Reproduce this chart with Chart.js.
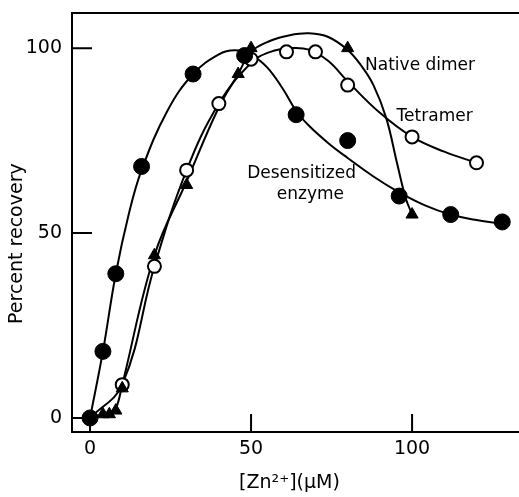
<html>
<head>
    <script src="https://cdn.jsdelivr.net/npm/chart.js"></script>
    <style>
        body { margin: 0; background: #fff; }
    </style>
</head>
<body>
    <canvas id="myChart" width="519" height="497"></canvas>
    <script>
        const desensX = [0, 4, 8, 16, 32, 48, 64, 80, 96, 112, 128];
        const desensY = [0, 18, 39, 68, 93, 98, 82, 75, 60, 55, 53];
        const tetraX = [0, 10, 20, 30, 40, 50, 61, 70, 80, 100, 120];
        const tetraY = [0, 9, 41, 67, 85, 97, 99, 99, 90, 76, 69];
        const dimerX = [4, 6, 8, 10, 20, 30, 46, 50, 80, 100];
        const dimerY = [1, 1, 2, 8, 44, 63, 93, 100, 100, 55];

        // hand-drawn fitted curves
        const desensCurveX = [0, 4, 8, 12, 16, 24, 32, 40, 45, 50, 55, 60, 64, 68, 74, 80, 88, 96, 104, 112, 120, 128];
        const desensCurveY = [0, 18, 39, 55, 67, 83, 93, 98.3, 99.4, 98.2, 94.8, 88.8, 83, 79, 74.3, 70.3, 65.3, 61, 57.5, 55, 53.5, 52.5];
        const tetraCurveX = [0, 10, 20, 30, 40, 50, 56, 62, 68, 74, 80, 90, 100, 110, 120];
        const tetraCurveY = [0, 9, 41, 67, 85, 96, 99, 100, 99.6, 96.5, 91, 82.5, 76, 72, 69];
        const dimerCurveX = [0, 4, 6, 8, 10, 20, 30, 40, 46, 50, 56, 62, 68, 74, 80, 84, 88, 92, 95.3, 98, 100];
        const dimerCurveY = [0, 1, 1.2, 2.5, 9, 44, 64, 84, 93, 99, 102, 103.5, 104, 103, 99.5, 95.5, 90, 81, 69, 59.5, 55];

        const xTicks = [0, 50, 100];
        const yTicks = [0, 50, 100];
        const labels = ['Native dimer', 'Tetramer', 'Desensitized', 'enzyme'];

        const pts = (xs, ys) => xs.map((x, i) => ({x: x, y: ys[i]}));

        const frame = {
            id: 'frame',
            afterDraw(chart) {
                const {ctx, chartArea: a, scales: {x, y}} = chart;
                ctx.save();
                ctx.strokeStyle = '#000';
                ctx.lineWidth = 2;
                ctx.beginPath();
                ctx.moveTo(a.left, a.top);
                ctx.lineTo(a.right, a.top);
                xTicks.forEach(v => {
                    const px = x.getPixelForValue(v);
                    ctx.moveTo(px, a.bottom);
                    ctx.lineTo(px, a.bottom - 18);
                });
                yTicks.forEach(v => {
                    const py = y.getPixelForValue(v);
                    ctx.moveTo(a.left, py);
                    ctx.lineTo(a.left + 20, py);
                });
                ctx.stroke();

                ctx.fillStyle = '#000';
                ctx.font = '17px "DejaVu Sans"';
                ctx.textBaseline = 'middle';
                ctx.textAlign = 'left';
                const put = (t, vx, vy) => ctx.fillText(t, x.getPixelForValue(vx), y.getPixelForValue(vy));
                put(labels[0], 85.4, 95.2);
                put(labels[1], 95.2, 81.5);
                put(labels[2], 48.8, 66.2);
                put(labels[3], 58, 60.3);
                ctx.restore();
            }
        };

        Chart.defaults.font.family = '"DejaVu Sans"';
        Chart.defaults.color = '#000';

        const curve = (data) => ({
            data: data,
            showLine: true,
            borderColor: '#000',
            borderWidth: 2,
            pointRadius: 0,
            tension: 0.4,
            order: 5
        });

        const noPad = s => {
            s.paddingLeft = 0;
            s.paddingRight = 0;
            s.paddingTop = 0;
            s.paddingBottom = 0;
        };

        // trailing no-break spaces nudge the centred titles off-centre like the original
        const nb = n => '\u00a0'.repeat(n);

        const ctx = document.getElementById('myChart');
        const myChart = new Chart(ctx, {
            type: 'scatter',
            data: {
                datasets: [
                    {
                        label: 'Desensitized enzyme',
                        data: pts(desensX, desensY),
                        pointStyle: 'circle',
                        pointRadius: 8,
                        backgroundColor: '#000',
                        borderColor: '#000',
                        borderWidth: 1,
                        order: 1
                    },
                    {
                        label: 'Native dimer',
                        data: pts(dimerX, dimerY),
                        pointStyle: 'triangle',
                        pointRadius: 7,
                        backgroundColor: '#000',
                        borderColor: '#000',
                        borderWidth: 1,
                        order: 2
                    },
                    {
                        label: 'Tetramer',
                        data: pts(tetraX, tetraY),
                        pointStyle: 'circle',
                        pointRadius: 6.5,
                        backgroundColor: '#fff',
                        borderColor: '#000',
                        borderWidth: 2,
                        order: 3
                    },
                    curve(pts(desensCurveX, desensCurveY)),
                    curve(pts(tetraCurveX, tetraCurveY)),
                    curve(pts(dimerCurveX, dimerCurveY))
                ]
            },
            options: {
                responsive: false,
                animation: false,
                layout: {autoPadding: false, padding: {top: 13, right: 0, left: 0, bottom: 0}},
                plugins: {legend: {display: false}, tooltip: {enabled: false}},
                scales: {
                    x: {
                        type: 'linear',
                        position: 'bottom',
                        min: -5.6,
                        max: 133.2,
                        afterBuildTicks: s => { s.ticks = xTicks.map(v => ({value: v})); },
                        afterFit: s => { s.height = 65; noPad(s); },
                        grid: {drawOnChartArea: false, drawTicks: false},
                        border: {display: true, color: '#000', width: 2},
                        ticks: {font: {size: 19}, padding: 6, maxRotation: 0},
                        title: {
                            display: true,
                            text: '[Zn²⁺](μM)' + nb(2),
                            font: {size: 19},
                            padding: {top: 0, bottom: 3}
                        }
                    },
                    y: {
                        type: 'linear',
                        position: 'left',
                        min: -3.8,
                        max: 109.5,
                        afterBuildTicks: s => { s.ticks = yTicks.map(v => ({value: v})); },
                        afterFit: s => { s.width = 72; noPad(s); },
                        grid: {drawOnChartArea: false, drawTicks: false},
                        border: {display: true, color: '#000', width: 2},
                        ticks: {font: {size: 19}, padding: 10},
                        title: {
                            display: true,
                            text: 'Percent recovery' + nb(7),
                            font: {size: 19},
                            padding: {top: 6, bottom: 0}
                        }
                    }
                }
            },
            plugins: [frame]
        });
    </script>
</body>
</html>
